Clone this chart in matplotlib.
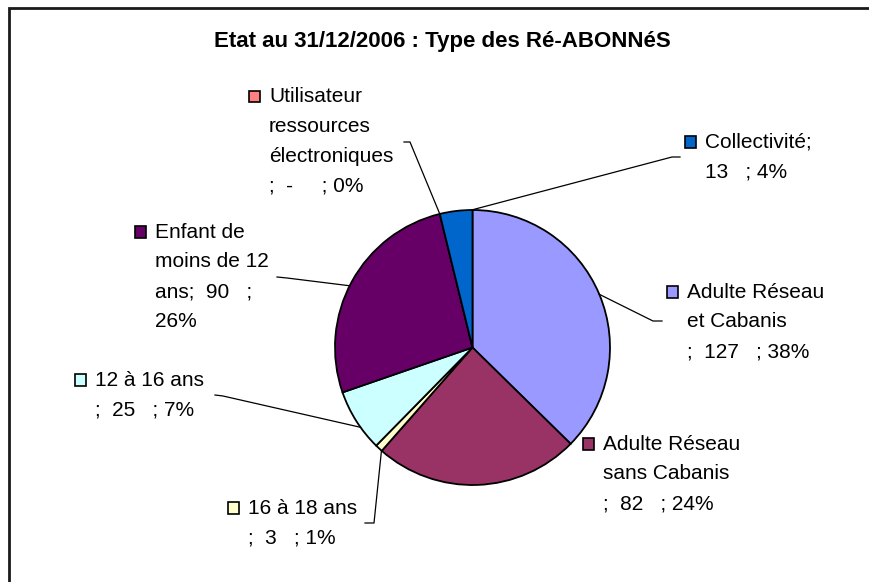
import matplotlib
matplotlib.use("Agg")
import matplotlib.pyplot as plt
from matplotlib.patches import Rectangle
import numpy as np

# ---------------- data ----------------
categories = ["Adulte Réseau et Cabanis", "Adulte Réseau sans Cabanis", "16 à 18 ans",
              "12 à 16 ans", "Enfant de moins de 12 ans",
              "Utilisateur ressources électroniques", "Collectivité"]
values = [127, 82, 3, 25, 90, 0, 13]
percent_labels = ["38%", "24%", "1%", "7%", "26%", "0%", "4%"]
label_lines = [
    ["Adulte Réseau", "et Cabanis", ";  127   ; 38%"],
    ["Adulte Réseau", "sans Cabanis", ";  82   ; 24%"],
    ["16 à 18 ans", ";  3   ; 1%"],
    ["12 à 16 ans", ";  25   ; 7%"],
    ["Enfant de", "moins de 12", "ans;  90   ;", "26%"],
    ["Utilisateur", "ressources", "électroniques", ";  -     ; 0%"],
    ["Collectivité;", "13   ; 4%"],
]
colors = ["#9999FF", "#993366", "#FFFFCC", "#CCFFFF", "#660066", "#FF8080", "#0066CC"]
title = "Etat au 31/12/2006 : Type des Ré-ABONNéS"

# ---------------- layout (pixels) ----------------
W, H = 870, 582
cx, cy, r = 472.5, 347.5, 137.5
FONT = "Liberation Sans"
fs = 15
# label text x and first-baseline y, line step
label_pos = [(687, 297.5), (603, 449.5), (248, 513.5), (95, 385.5),
             (155, 237.5), (269, 102), (705, 147.5)]
line_step = 29.8
# leader lines: (start, elbow, fraction inside wedge) or None
leaders = [((662, 321), (653, 321), 0.5),
           None,
           ((365, 523), (374, 523), 0.05),
           ((215, 395), (223, 396), 0.38),
           ((277, 277), (287, 278), 0.48),
           ((404, 142), (410, 142), 0.5),
           ((680, 157), (672, 157), 0.97)]

fig = plt.figure(figsize=(W / 100, H / 100), dpi=100)
fig.patch.set_facecolor("white")

# pie axes
ax = fig.add_axes([(cx - r) / W, (H - cy - r) / H, 2 * r / W, 2 * r / H])
ax.pie(values, colors=colors, startangle=90, counterclock=False, radius=1.0,
       wedgeprops=dict(edgecolor="black", linewidth=1.3))
ax.set_xlim(-1, 1)
ax.set_ylim(-1, 1)
ax.set_aspect("auto")
ax.axis("off")

# overlay axes in pixel coordinates
ov = fig.add_axes([0, 0, 1, 1], facecolor="none")
ov.set_xlim(0, W)
ov.set_ylim(H, 0)
ov.axis("off")

# frame (left and top edges visible)
ov.plot([9, 9, W + 5], [H + 5, 8, 8], color="#1a1a1a", lw=2.0, clip_on=False,
        solid_joinstyle="miter")

# title
ov.text(442, 47.3, title, ha="center", va="baseline", fontsize=16,
        fontweight="bold", family=FONT, color="black")

total = float(sum(values))
cum = np.concatenate([[0], np.cumsum(values)]) / total * 360.0

fig.canvas.draw()
to_ov = ax.transData + ov.transData.inverted()

for i, lines in enumerate(label_lines):
    x0, y0 = label_pos[i]
    for k, ln in enumerate(lines):
        ov.text(x0, y0 + k * line_step, ln, ha="left", va="baseline",
                fontsize=fs, family=FONT, color="black")
    # legend key square
    ov.add_patch(Rectangle((x0 - 20, y0 - 11.5), 11.5, 11.5, facecolor=colors[i],
                           edgecolor="black", lw=1.2))
    spec = leaders[i]
    if spec is not None:
        (sx, sy), (ex, ey), frac = spec
        phi = np.deg2rad(cum[i] + frac * (cum[i + 1] - cum[i]))
        px, py = to_ov.transform((np.sin(phi), np.cos(phi)))
        ov.plot([sx, ex, px], [sy, ey, py], color="black", lw=0.9)

fig.savefig("out.png", dpi=100, facecolor="white")
